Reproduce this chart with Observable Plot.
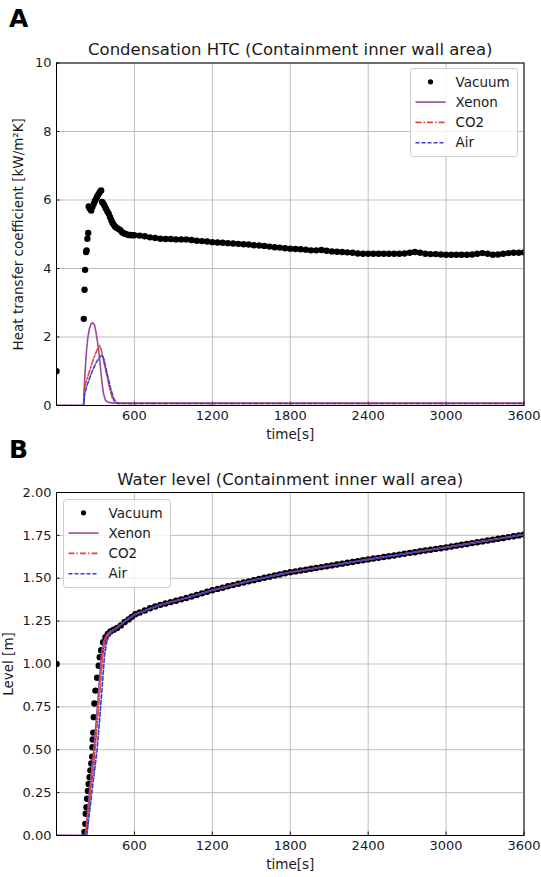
<!DOCTYPE html>
<html><head><meta charset="utf-8">
<script src="https://cdn.jsdelivr.net/npm/d3@7"></script>
<script src="https://cdn.jsdelivr.net/npm/@observablehq/plot@0.6"></script>
<style>
body{margin:0;background:#fff;}
#fig{position:relative;width:541px;height:877px;font-family:"DejaVu Sans",sans-serif;overflow:hidden;}
#fig > svg{position:absolute;left:0;}
#overlay{position:absolute;left:0;top:0;pointer-events:none;}
</style></head>
<body><div id="fig"></div>
<script>
// ---------- data ----------
const timeTicks = [600, 1200, 1800, 2400, 3000, 3600];
const htcTicks = [0, 2, 4, 6, 8, 10];
const levelTicks = [0, 0.25, 0.5, 0.75, 1.0, 1.25, 1.5, 1.75, 2.0];
const seriesNames = ["Vacuum", "Xenon", "CO2", "Air"];

// Panel A: condensation HTC [kW/m2K] vs time [s]
const vacuumHtc = [[0,1.0],[210,2.53],[216,3.38],[220,3.96],[228,4.48],[232,4.53],[238,4.87],[244,5.04],[248,5.81],[256,5.75],[267,5.69],[277,5.8],[287,5.89],[297,5.98],[307,6.05],[316,6.12],[325,6.18],[335,6.24],[344,6.28],[351,5.94],[360,5.9],[370,5.83],[380,5.75],[391,5.67],[402,5.6],[413,5.5],[423,5.4],[433,5.32],[444,5.26],[454,5.21],[466,5.18],[479,5.15],[492,5.12],[505,5.06],[518,5.03],[531,5.01],[544,4.99],[557,4.98],[570,4.98],[583,4.97],[600,4.97],
[640,4.96],[680,4.94],[720,4.91],[760,4.89],[800,4.87],[840,4.86],[880,4.86],[920,4.85],[960,4.85],[1000,4.85],[1040,4.83],[1080,4.81],[1120,4.80],[1160,4.79],[1200,4.77],[1240,4.76],[1280,4.75],[1320,4.74],[1360,4.73],[1400,4.72],[1440,4.71],[1480,4.70],[1520,4.68],[1560,4.67],[1600,4.66],[1640,4.64],[1680,4.62],[1720,4.61],[1760,4.59],[1800,4.58],[1840,4.57],[1880,4.56],[1920,4.55],[1960,4.53],[2000,4.53],[2040,4.54],[2080,4.52],[2120,4.50],[2160,4.49],[2200,4.48],[2240,4.47],[2280,4.46],[2320,4.44],[2360,4.43],[2400,4.43],[2440,4.43],[2480,4.43],[2520,4.43],[2560,4.43],[2600,4.43],[2640,4.43],[2680,4.44],[2720,4.46],[2760,4.48],[2800,4.46],[2840,4.43],[2880,4.42],[2920,4.42],[2960,4.41],[3000,4.40],[3040,4.40],[3080,4.40],[3120,4.40],[3160,4.40],[3200,4.41],[3240,4.43],[3280,4.45],[3320,4.43],[3360,4.40],[3400,4.41],[3440,4.43],[3480,4.45],[3520,4.46],[3560,4.46],[3600,4.47]];
const xenonHtc = [[0,0],[208,0],[212,0.4],[218,0.85],[224,1.2],[232,1.65],[242,2.0],[254,2.25],[266,2.38],[279,2.42],[292,2.35],[304,2.15],[315,1.88],[325,1.6],[335,1.25],[344,0.9],[351,0.64],[362,0.35],[377,0.15],[400,0.09],[440,0.07],[3600,0.07]];
const co2Htc = [[0,0],[209,0],[213,0.4],[222,0.62],[231,0.73],[250,0.95],[270,1.2],[290,1.42],[310,1.6],[325,1.72],[333,1.75],[345,1.62],[358,1.4],[374,1.1],[390,0.83],[410,0.5],[428,0.24],[447,0.1],[467,0.06],[3600,0.06]];
const airHtc = [[0,0],[211,0],[215,0.3],[231,0.54],[255,0.8],[280,1.05],[305,1.25],[330,1.4],[351,1.48],[365,1.35],[383,1.05],[402,0.73],[420,0.45],[441,0.2],[460,0.09],[479,0.06],[3600,0.06]];

// Panel B: water level [m] vs time [s]
const vacuumLevel = [[0,1.0],[215,0.02],[222,0.068],[225,0.127],[231,0.165],[236,0.214],[242,0.26],[248,0.30],[255,0.34],[261,0.38],[268,0.42],[275,0.46],[277,0.515],[279,0.56],[283,0.60],[287,0.69],[292,0.77],[300,0.845],[313,0.92],[325,0.99],[333,1.04],[344,1.08],[359,1.127],[377,1.156],[395,1.175],[415,1.19],[440,1.2],[467,1.21],[495,1.225],[525,1.245],[555,1.26],[580,1.275],[607,1.29],
[640,1.30],[680,1.312],[720,1.325],[760,1.335],[800,1.345],[840,1.353],[880,1.361],[920,1.369],[960,1.377],[1000,1.385],[1040,1.394],[1080,1.403],[1120,1.412],[1160,1.421],[1200,1.43],[1240,1.438],[1280,1.445],[1320,1.453],[1360,1.46],[1400,1.468],[1440,1.475],[1480,1.482],[1520,1.489],[1560,1.496],[1600,1.503],[1640,1.509],[1680,1.516],[1720,1.522],[1760,1.529],[1800,1.535],[1840,1.54],[1880,1.545],[1920,1.55],[1960,1.555],[2000,1.56],[2040,1.565],[2080,1.57],[2120,1.575],[2160,1.58],[2200,1.585],[2240,1.59],[2280,1.595],[2320,1.60],[2360,1.605],[2400,1.61],[2440,1.615],[2480,1.619],[2520,1.624],[2560,1.628],[2600,1.633],[2640,1.638],[2680,1.643],[2720,1.648],[2760,1.652],[2800,1.657],[2840,1.662],[2880,1.666],[2920,1.671],[2960,1.675],[3000,1.68],[3040,1.685],[3080,1.69],[3120,1.695],[3160,1.70],[3200,1.705],[3240,1.71],[3280,1.715],[3320,1.72],[3360,1.725],[3400,1.73],[3440,1.735],[3480,1.74],[3520,1.745],[3560,1.75],[3600,1.755]];
const levelTail = [[607,1.29],[800,1.345],[1000,1.385],[1200,1.43],[1400,1.468],[1600,1.503],[1800,1.535],[2000,1.56],[2200,1.585],[2400,1.61],[2600,1.633],[2800,1.657],[3000,1.68],[3200,1.705],[3400,1.73],[3600,1.755]];
const xenonLevelRise = [[0,0],[221,0],[226,0.03],[256,0.27],[287,0.5],[320,0.8],[345,1.05],[362,1.13],[385,1.17],[415,1.19],[467,1.21],[530,1.25]];
const co2LevelRise = [[0,0],[226,0],[231,0.03],[263,0.27],[298,0.5],[330,0.8],[356,1.05],[373,1.13],[395,1.17],[423,1.19],[470,1.215],[530,1.25]];
const airLevelRise = [[0,0],[232,0],[238,0.03],[275,0.27],[313,0.5],[345,0.8],[370,1.05],[387,1.13],[405,1.17],[430,1.19],[475,1.215],[530,1.25]];

// ---------- styles ----------
const colors = {Vacuum: "#000000", Xenon: "#9b4a9f", CO2: "#e0483a", Air: "#3d3dd6"};
const dashes = {Xenon: null, CO2: "6,2,1.5,2", Air: "4,2"};
const FONT = "DejaVu Sans, sans-serif";
const W = 541, ML = 56, MR = 17.5;

function panel({height, marginTop, marginBottom, yDomain, yTicks, yFormat, yLabel, yLabelDx, title, vac, xe, co, ai}) {
  const innerH = height - marginTop - marginBottom;
  const innerW = W - ML - MR;
  const lineOpts = (name) => ({x: d => d[0], y: d => d[1], stroke: colors[name], strokeWidth: 1.6, strokeDasharray: dashes[name], clip: true});
  return Plot.plot({
    width: W, height, marginTop, marginBottom, marginLeft: ML, marginRight: MR,
    style: {fontFamily: FONT, fontSize: "13px", color: "#1a1a1a", overflow: "visible", background: "transparent"},
    x: {domain: [0, 3600]},
    y: {domain: yDomain},
    marks: [
      Plot.gridX(timeTicks, {stroke: "#b8b8b8", strokeOpacity: 1, strokeWidth: 0.9}),
      Plot.gridY(yTicks, {stroke: "#b8b8b8", strokeOpacity: 1, strokeWidth: 0.9}),
      Plot.axisX(timeTicks, {tickSize: 0, tickPadding: 5, label: null, fontSize: 13, tickFormat: d3.format("d")}),
      Plot.axisY(yTicks, {tickSize: 0, tickPadding: 5, label: null, fontSize: 13, tickFormat: yFormat}),
      Plot.ruleX(timeTicks, {x: d => d, insetTop: innerH - 3.5, stroke: "#000", strokeWidth: 0.9}),
      Plot.ruleY(yTicks, {y: d => d, insetRight: innerW - 3.5, stroke: "#000", strokeWidth: 0.9}),
      Plot.dot(vac, {x: d => d[0], y: d => d[1], r: 3.2, fill: colors.Vacuum, stroke: null, clip: true}),
      Plot.line(xe, lineOpts("Xenon")),
      Plot.line(co, lineOpts("CO2")),
      Plot.line(ai, lineOpts("Air")),
      Plot.frame({stroke: "#000", strokeWidth: 1}),
      Plot.text([title], {text: d => d, frameAnchor: "top", lineAnchor: "bottom", dy: -8, fontSize: 16.5}),
      Plot.text(["time[s]"], {text: d => d, frameAnchor: "bottom", dy: 33, fontSize: 13.5}),
      Plot.text([yLabel], {text: d => d, frameAnchor: "left", textAnchor: "middle", rotate: -90, dx: yLabelDx, fontSize: 13.5})
    ]
  });
}

const fig = document.getElementById("fig");

const svgA = panel({
  height: 445, marginTop: 62.5, marginBottom: 40,
  yDomain: [0, 10], yTicks: htcTicks, yFormat: d3.format("d"),
  yLabel: "Heat transfer coefficient [kW/m²K]", yLabelDx: -38,
  title: "Condensation HTC (Containment inner wall area)",
  vac: vacuumHtc, xe: xenonHtc, co: co2Htc, ai: airHtc
});
svgA.style.top = "0px";
fig.appendChild(svgA);

const svgB = panel({
  height: 432, marginTop: 47, marginBottom: 42,
  yDomain: [0, 2], yTicks: levelTicks, yFormat: d3.format(".2f"),
  yLabel: "Level [m]", yLabelDx: -48,
  title: "Water level (Containment inner wall area)",
  vac: vacuumLevel, xe: xenonLevelRise.concat(levelTail), co: co2LevelRise.concat(levelTail), ai: airLevelRise.concat(levelTail)
});
svgB.style.top = "445px";
fig.appendChild(svgB);

// ---------- overlay: panel letters and legends ----------
function legend(x, y) {
  const w = 107, h = 88, rowGap = 20.3, first = 13.3;
  let s = `<rect x="${x}" y="${y}" width="${w}" height="${h}" rx="3" fill="#fff" fill-opacity="0.8" stroke="#cccccc" stroke-width="1"/>`;
  seriesNames.forEach((name, i) => {
    const cy = y + first + i * rowGap;
    if (name === "Vacuum") {
      s += `<circle cx="${x + 20}" cy="${cy}" r="2.6" fill="#000"/>`;
    } else {
      s += `<line x1="${x + 5}" x2="${x + 35}" y1="${cy}" y2="${cy}" stroke="${colors[name]}" stroke-width="1.6"${dashes[name] ? ` stroke-dasharray="${dashes[name]}"` : ""}/>`;
    }
    s += `<text x="${x + 45}" y="${cy}" dy="0.35em" font-size="13.5" fill="#1a1a1a">${name}</text>`;
  });
  return s;
}
const overlay = document.createElementNS("http://www.w3.org/2000/svg", "svg");
overlay.setAttribute("id", "overlay");
overlay.setAttribute("width", W);
overlay.setAttribute("height", 877);
overlay.setAttribute("font-family", FONT);
overlay.innerHTML =
  `<text x="9" y="27" font-size="25" font-weight="bold" fill="#000">A</text>` +
  `<text x="9" y="458" font-size="25" font-weight="bold" fill="#000">B</text>` +
  legend(410.5, 68.5) + legend(63.5, 499.5);
fig.appendChild(overlay);
</script>
</body></html>
